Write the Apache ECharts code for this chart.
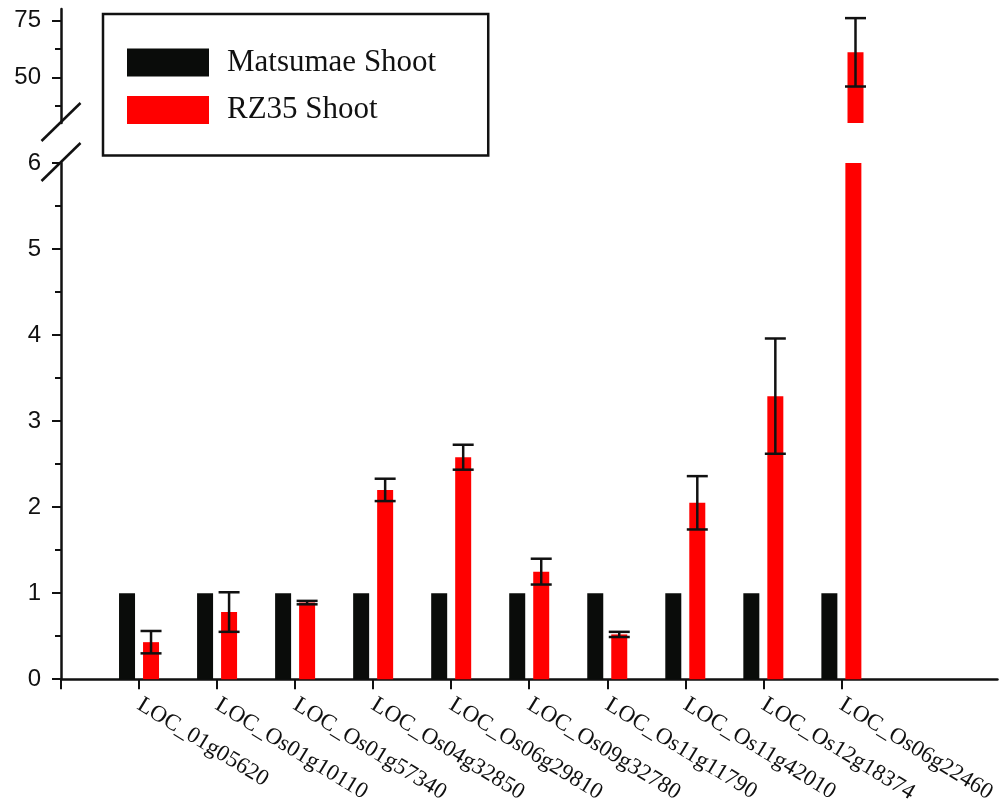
<!DOCTYPE html>
<html>
<head>
<meta charset="utf-8">
<script src="https://cdn.jsdelivr.net/npm/echarts@6/dist/echarts.min.js"></script>
<style>html,body{margin:0;padding:0;background:#fff;}#c{width:1000px;height:806px;}</style>
</head>
<body>
<div id="c"></div>
<script>
const categories = ['LOC_01g05620','LOC_Os01g10110','LOC_Os01g57340','LOC_Os04g32850','LOC_Os06g29810','LOC_Os09g32780','LOC_Os11g11790','LOC_Os11g42010','LOC_Os12g18374','LOC_Os06g22460'];
const matsumae = [1,1,1,1,1,1,1,1,1,1];
const rz35 = [0.43,0.78,0.89,2.2,2.58,1.25,0.52,2.05,3.29,61];
const rz35Err = [0.13,0.23,0.02,0.13,0.145,0.15,0.03,0.31,0.67,15];
const lowerRange = [0, 6];
const upperRange = [30, 80];
const upperLabels = [50, 75];
const upperMinorTicks = [37.5, 62.5];

const INK = '#111';
const axisCats = [''].concat(categories, ['', '']);
const pad = arr => [null].concat(arr, [null, null]);
const upperOnly = arr => pad(arr.map(v => v > upperRange[0] ? v : null));

const errLower = [], errUpper = [];
rz35.forEach((m, i) => {
  const e = rz35Err[i];
  if (m + e <= lowerRange[1]) errLower.push([i + 1, m, e]);
  if (m - e >= upperRange[0]) errUpper.push([i + 1, m, e]);
});

const BAR_W = 16, GAP = 8;
function errRender(params, api) {
  const x = api.value(0), m = api.value(1), e = api.value(2);
  const hi = api.coord([x, m + e]);
  const lo = api.coord([x, m - e]);
  const cx = hi[0] + (BAR_W + GAP) / 2;
  const hw = 10.5;
  const st = {stroke: INK, lineWidth: 2.5};
  return {type: 'group', children: [
    {type: 'line', shape: {x1: cx, y1: hi[1], x2: cx, y2: lo[1]}, style: st},
    {type: 'line', shape: {x1: cx - hw, y1: hi[1], x2: cx + hw, y2: hi[1]}, style: st},
    {type: 'line', shape: {x1: cx - hw, y1: lo[1], x2: cx + hw, y2: lo[1]}, style: st}
  ]};
}

const chart = echarts.init(document.getElementById('c'), null, {renderer: 'canvas'});
const yLabel = {color: INK, fontFamily: 'Liberation Sans', fontSize: 24, margin: 20};
const option = {
  animation: false,
  backgroundColor: '#fff',
  legend: {
    data: ['Matsumae Shoot', 'RZ35 Shoot'],
    orient: 'vertical', left: 103, top: 14,
    icon: 'rect', itemWidth: 82, itemHeight: 28, itemGap: 16.5,
    padding: [33, 52, 30, 24],
    borderColor: INK, borderWidth: 2.5,
    textStyle: {fontFamily: 'Liberation Serif', fontSize: 31, lineHeight: 30, color: INK, padding: [0, 0, 0, 13]}
  },
  grid: [
    {left: 61, width: 940, top: 163, height: 517},
    {left: 61, width: 940, top: 9, height: 114}
  ],
  xAxis: [
    {type: 'category', gridIndex: 0, data: axisCats, boundaryGap: false,
     axisLine: {lineStyle: {color: INK, width: 2.5}},
     axisTick: {show: true, length: 10, lineStyle: {color: INK, width: 2}, interval: (i) => i <= categories.length},
     axisLabel: {interval: 0, rotate: -31.5, margin: 24, color: INK, fontFamily: 'Liberation Serif', fontSize: 23}},
    {type: 'category', gridIndex: 1, data: axisCats, boundaryGap: false, show: false}
  ],
  yAxis: [
    {type: 'value', gridIndex: 0, min: lowerRange[0], max: lowerRange[1], interval: 1, position: 'left',
     splitLine: {show: false},
     axisLine: {show: true, lineStyle: {color: INK, width: 2.5}},
     axisTick: {show: true, length: 9, lineStyle: {color: INK, width: 2}},
     minorTick: {show: true, splitNumber: 2, length: 6, lineStyle: {color: INK, width: 2}},
     axisLabel: yLabel},
    {type: 'value', gridIndex: 1, min: upperRange[0], max: upperRange[1], position: 'left',
     splitLine: {show: false},
     axisLine: {show: true, lineStyle: {color: INK, width: 2.5}},
     axisTick: {show: true, length: 9, customValues: upperLabels, lineStyle: {color: INK, width: 2}},
     axisLabel: Object.assign({customValues: upperLabels}, yLabel)},
    {type: 'value', gridIndex: 1, min: upperRange[0], max: upperRange[1], position: 'left',
     splitLine: {show: false},
     axisLine: {show: false},
     axisTick: {show: true, length: 6, customValues: upperMinorTicks, lineStyle: {color: INK, width: 2}},
     axisLabel: {show: false}}
  ],
  series: [
    {name: 'Matsumae Shoot', type: 'bar', xAxisIndex: 0, yAxisIndex: 0, data: pad(matsumae),
     barWidth: BAR_W, barGap: '50%', itemStyle: {color: '#0a0c0a'}, clip: true},
    {name: 'RZ35 Shoot', type: 'bar', xAxisIndex: 0, yAxisIndex: 0, data: pad(rz35),
     barWidth: BAR_W, barGap: '50%', itemStyle: {color: '#ff0000'}, clip: true},
    {name: 'Matsumae Shoot', type: 'bar', xAxisIndex: 1, yAxisIndex: 1, data: upperOnly(matsumae),
     barWidth: BAR_W, barGap: '50%', itemStyle: {color: '#0a0c0a'}, clip: true},
    {name: 'RZ35 Shoot', type: 'bar', xAxisIndex: 1, yAxisIndex: 1, data: upperOnly(rz35),
     barWidth: BAR_W, barGap: '50%', itemStyle: {color: '#ff0000'}, clip: true},
    {name: 'errLower', type: 'custom', xAxisIndex: 0, yAxisIndex: 0, data: errLower,
     renderItem: errRender, encode: {x: 0, y: 1}, z: 5},
    {name: 'errUpper', type: 'custom', xAxisIndex: 1, yAxisIndex: 1, data: errUpper,
     renderItem: errRender, encode: {x: 0, y: 1}, z: 5}
  ]
};
chart.setOption(option);

const pUp = chart.convertToPixel({xAxisIndex: 1, yAxisIndex: 1}, [0, upperRange[0]]);
const pLo = chart.convertToPixel({xAxisIndex: 0, yAxisIndex: 0}, [0, lowerRange[1]]);
const slash = (c) => ({type: 'line', z: 100,
  shape: {x1: c[0] - 19.5, y1: c[1] + 19, x2: c[0] + 19.5, y2: c[1] - 19},
  style: {stroke: INK, lineWidth: 2.5}});
chart.setOption({graphic: [slash([pUp[0], pUp[1] - 1]), slash([pLo[0], pLo[1] - 1])]});
</script>
</body>
</html>
